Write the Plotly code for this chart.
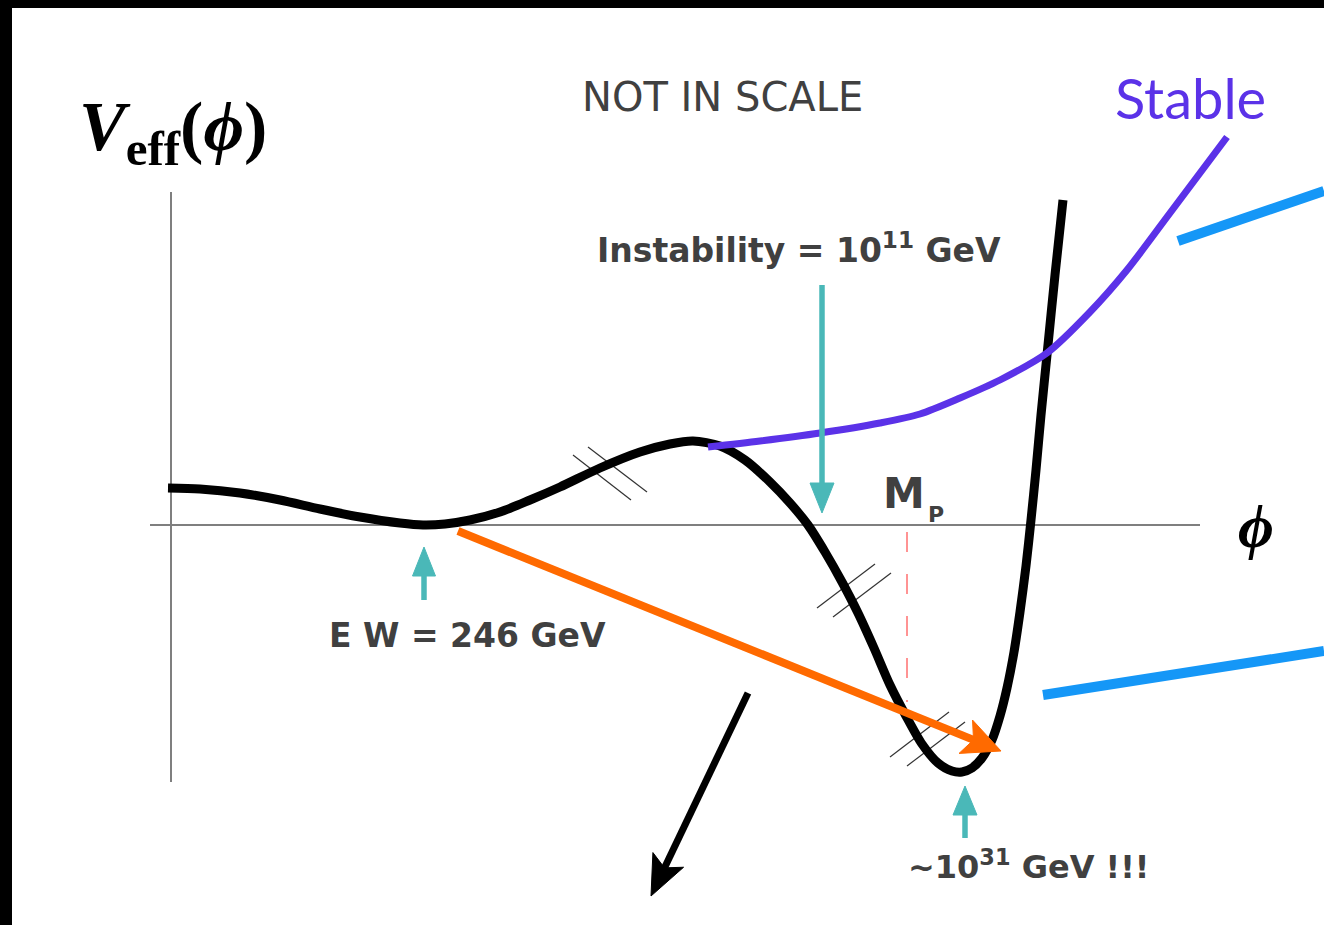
import numpy as np
import plotly.graph_objects as go

W, H = 1324, 925

# Effective potential sketch (drawing units, y grows downward)
curve_x = [168, 200, 240, 280, 320, 360, 400, 423, 445, 470, 500, 530, 560, 600, 640,
           670, 693, 720, 745, 770, 790, 808, 825, 842, 858, 874, 890, 906, 922, 938,
           952, 962, 972, 982, 992, 1000, 1007, 1014, 1020, 1026, 1031, 1036, 1041,
           1047, 1055, 1063]
curve_y = [488, 489, 493, 500, 509, 517, 523, 525, 524, 520, 512, 500, 487, 468, 452,
           444, 441, 446, 460, 482, 503, 525, 552, 582, 613, 648, 685, 716, 744, 763,
           771, 772, 768, 758, 740, 716, 688, 652, 612, 566, 520, 470, 415,
           355, 275, 200]

# "Stable" branch continuing from the barrier
stable_x = [708, 760, 820, 880, 920, 960, 1000, 1047, 1090, 1127, 1170, 1227]
stable_y = [447, 441, 433, 423, 414, 398, 380, 353, 312, 270, 213, 137]

# coordinate axes
phi_axis_x = [150, 1200]
phi_axis_y = [525, 525]
v_axis_x = [171, 171]
v_axis_y = [192, 782]

# blue pointer strokes
blue_up_x = [1178, 1324]
blue_up_y = [241, 191]
blue_lo_x = [1043, 1324]
blue_lo_y = [695, 651]

# Planck-mass dashed marker
mp_x = [907, 907]
mp_y = [532, 702]

# arrows: (x_start, y_start, x_tip, y_tip)
arrow_tunnel = (458, 531, 1001, 751)
arrow_decay = (748, 693, 651, 896)
arrow_instab = (822, 285, 822, 513)
arrow_ew = (424, 600, 424, 547)
arrow_planck = (965, 838, 965, 786)

# hatch marks (pairs of short strokes across the curve)
hatch_x = [[573, 631], [588, 647], [817, 875], [833, 891], [890, 949], [907, 965]]
hatch_y = [[455, 500], [447, 492], [608, 564], [617, 573], [757, 712], [766, 722]]

BLACK = "#000000"
GREY_AXIS = "#7f7f7f"
TEXT = "#404040"
TEAL = "#4ab8b8"
ORANGE = "#ff6a00"
PURPLE = "#5b32e8"
BLUE = "#1597f7"
RED = "#ff7070"

fig = go.Figure()


def line(x, y, color, width, shape="linear", dash=None, smoothing=1.0):
    fig.add_trace(go.Scatter(x=x, y=y, mode="lines", hoverinfo="skip",
                             line=dict(color=color, width=width, shape=shape, dash=dash,
                                       smoothing=smoothing)))


def arrow(spec, color, width, head_len, head_w, notch=0.0):
    x0, y0, x1, y1 = spec
    d = np.array([x1 - x0, y1 - y0], dtype=float)
    L = np.hypot(*d)
    u = d / L
    n = np.array([-u[1], u[0]])
    tip = np.array([x1, y1], dtype=float)
    base = tip - u * head_len
    back = tip - u * head_len * (1 - notch)
    p1 = base + n * head_w / 2
    p2 = base - n * head_w / 2
    shaft_end = back + u * 2
    line([x0, shaft_end[0]], [y0, shaft_end[1]], color, width)
    fig.add_trace(go.Scatter(x=[tip[0], p1[0], back[0], p2[0], tip[0]],
                             y=[tip[1], p1[1], back[1], p2[1], tip[1]],
                             mode="lines", fill="toself", fillcolor=color,
                             line=dict(color=color, width=1), hoverinfo="skip"))


# axes
line(phi_axis_x, phi_axis_y, GREY_AXIS, 2)
line(v_axis_x, v_axis_y, GREY_AXIS, 2)

# hatch marks
for hx, hy in zip(hatch_x, hatch_y):
    line(hx, hy, "#333333", 1.2)

# Planck marker
line(mp_x, mp_y, RED, 1.5, dash="20px,22px")

# potential
line(curve_x, curve_y, BLACK, 9, shape="spline", smoothing=0.8)
line(stable_x, stable_y, PURPLE, 7, shape="spline", smoothing=0.8)

# blue strokes
line(blue_up_x, blue_up_y, BLUE, 10)
line(blue_lo_x, blue_lo_y, BLUE, 10)

# arrows
arrow(arrow_tunnel, ORANGE, 8, 38, 36, notch=0.22)
arrow(arrow_decay, BLACK, 7, 40, 34, notch=0.22)
arrow(arrow_instab, TEAL, 5.5, 30, 24)
arrow(arrow_ew, TEAL, 5.5, 29, 23)
arrow(arrow_planck, TEAL, 5.5, 29, 24)

ann = []


def text(x, y, s, size, color=TEXT, family="DejaVu Sans", xanchor="center", yanchor="middle"):
    ann.append(dict(x=x, y=y, xref="x", yref="y", text=s, showarrow=False,
                    xanchor=xanchor, yanchor=yanchor,
                    font=dict(size=size, color=color, family=family)))


text(77, 132, "<b><i>V</i><sub>eff</sub>(<i>ϕ</i>)</b>", 70, color=BLACK,
     family="Liberation Serif", xanchor="left")
text(722, 97, "NOT IN SCALE", 40)
text(1190, 97, "Stable", 56, color=PURPLE, family="Lato")
text(799, 248, "<b>Instability = 10<sup>11</sup> GeV</b>", 33)
text(881, 493, "<b>M</b>", 42, xanchor="left")
text(926, 514, "<b>P</b>", 22, xanchor="left")
text(467, 635, "<b>E W = 246 GeV</b>", 33)
text(1028, 865, "<b>~10<sup>31</sup> GeV !!!</b>", 32)
text(1256, 526, "<b><i>ϕ</i></b>", 62, color=BLACK, family="Liberation Serif")

shapes = [
    dict(type="rect", xref="paper", yref="paper", x0=0, x1=1, y0=1, y1=1 - 8 / H,
         fillcolor=BLACK, line=dict(width=0), layer="above"),
    dict(type="rect", xref="paper", yref="paper", x0=0, x1=12 / W, y0=0, y1=1,
         fillcolor=BLACK, line=dict(width=0), layer="above"),
]

fig.update_layout(
    width=W, height=H, margin=dict(l=0, r=0, t=0, b=0),
    paper_bgcolor="white", plot_bgcolor="white", showlegend=False,
    xaxis=dict(range=[0, W], visible=False, fixedrange=True),
    yaxis=dict(range=[H, 0], visible=False, fixedrange=True),
    annotations=ann, shapes=shapes,
)

fig.write_html("out.html", config={"displayModeBar": False})
